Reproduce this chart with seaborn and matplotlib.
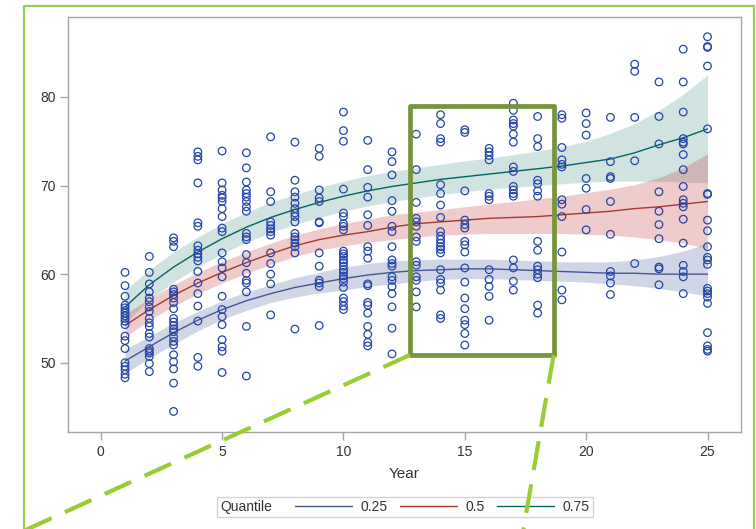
import numpy as np
import pandas as pd
import matplotlib
matplotlib.use("Agg")
import matplotlib.pyplot as plt
import seaborn as sns
from matplotlib.lines import Line2D
from matplotlib.patches import Rectangle
from matplotlib.offsetbox import HPacker


# DATA

years = list(range(1, 26))

pts_01 = [60.2, 58.7, 57.5, 56.5, 56.2, 55.9, 55.6, 55.3, 55.0, 54.7, 54.3, 53.0, 52.5, 51.6, 50.0, 49.6, 49.2, 48.7, 48.3]
pts_02 = [62.0, 60.2, 58.9, 58.0, 57.3, 56.9, 56.3, 55.8, 55.0, 54.5, 54.1, 53.3, 52.9, 51.6, 51.3, 51.1, 50.7, 49.9, 49.0]
pts_03 = [64.1, 63.7, 63.1, 58.3, 58.0, 57.7, 57.3, 56.8, 56.1, 55.0, 54.6, 54.2, 53.8, 53.5, 52.9, 52.4, 52.0, 50.9, 50.1, 49.3, 47.7, 44.5]
pts_04 = [73.8, 73.3, 72.9, 70.3, 65.8, 65.4, 63.2, 62.7, 62.3, 61.9, 61.5, 60.3, 59.0, 57.8, 56.4, 54.7, 50.6, 49.6]
pts_05 = [73.9, 70.3, 69.5, 68.9, 68.6, 68.2, 67.4, 66.5, 65.2, 64.8, 62.4, 61.4, 60.7, 59.7, 57.5, 56.0, 55.2, 54.3, 52.6, 51.8, 51.3, 48.9]
pts_06 = [73.7, 72.0, 70.4, 69.5, 69.1, 68.7, 68.2, 67.6, 67.1, 64.6, 64.2, 63.9, 62.2, 61.3, 60.1, 59.3, 59.0, 58.0, 54.1, 48.5]
pts_07 = [75.5, 69.3, 68.2, 65.9, 65.5, 65.1, 64.8, 64.4, 62.4, 61.2, 60.0, 58.9, 55.4]
pts_08 = [74.9, 70.6, 69.3, 68.7, 68.0, 67.4, 66.9, 66.5, 65.9, 64.6, 64.2, 63.9, 63.5, 63.1, 62.4, 53.8]
pts_09 = [74.2, 73.3, 69.5, 68.6, 68.2, 65.9, 65.8, 62.4, 60.9, 59.3, 59.0, 58.6, 54.2]
pts_10 = [78.3, 76.2, 75.0, 69.6, 66.9, 66.5, 65.7, 65.4, 65.0, 62.6, 62.3, 62.0, 61.6, 61.3, 60.9, 60.5, 60.2, 59.8, 59.5, 59.1, 58.5, 57.3, 56.9, 56.4, 56.0]
pts_11 = [75.1, 71.8, 69.8, 68.7, 66.7, 65.5, 63.1, 62.6, 61.8, 58.9, 58.7, 56.8, 56.5, 55.6, 54.1, 53.2, 52.3, 51.9]
pts_12 = [73.8, 72.7, 71.2, 68.3, 67.1, 65.4, 64.8, 63.1, 61.6, 61.2, 60.9, 59.7, 59.3, 58.6, 57.8, 56.3, 53.9, 51.0]
pts_13 = [75.8, 71.8, 68.1, 66.3, 65.9, 65.4, 64.2, 63.7, 61.4, 61.0, 59.7, 59.3, 58.0, 56.3]
pts_14 = [78.0, 77.0, 75.3, 74.9, 70.1, 69.1, 67.8, 66.4, 64.8, 64.3, 63.9, 63.5, 63.1, 62.8, 62.4, 60.5, 59.4, 59.0, 58.2, 55.4, 55.0]
pts_15 = [76.3, 76.0, 69.4, 66.1, 65.6, 65.2, 63.7, 63.3, 62.5, 60.7, 59.1, 57.3, 56.1, 54.8, 54.3, 53.3, 52.0]
pts_16 = [74.2, 73.8, 73.4, 72.9, 69.1, 68.8, 68.4, 60.5, 59.4, 58.6, 57.5, 54.8]
pts_17 = [79.3, 78.5, 77.4, 77.0, 76.7, 75.8, 74.9, 72.1, 71.6, 69.9, 69.5, 69.1, 68.8, 61.6, 60.7, 59.2, 58.2]
pts_18 = [77.8, 75.3, 74.4, 70.6, 70.2, 69.4, 68.8, 63.7, 62.7, 60.9, 60.5, 60.0, 59.6, 56.5, 55.6]
pts_19 = [78.0, 77.6, 74.3, 72.9, 72.4, 72.1, 68.4, 67.9, 66.5, 62.5, 58.2, 57.1]
pts_20 = [78.2, 77.0, 75.7, 70.8, 69.7, 67.3, 65.0]
pts_21 = [77.7, 72.7, 71.0, 70.8, 68.2, 64.5, 60.3, 59.8, 59.0, 57.7]
pts_22 = [83.7, 82.9, 77.7, 72.8, 61.2]
pts_23 = [81.7, 77.8, 74.7, 69.3, 67.1, 65.6, 64.0, 60.8, 60.6, 58.8]
pts_24 = [85.4, 81.7, 78.3, 75.3, 74.9, 74.7, 73.5, 71.8, 69.9, 68.4, 68.0, 67.6, 66.2, 63.5, 61.0, 60.3, 59.7, 57.8]
pts_25 = [86.8, 85.7, 85.6, 83.5, 76.4, 69.1, 69.0, 66.1, 64.9, 63.1, 61.9, 61.6, 61.1, 58.4, 58.1, 57.8, 57.4, 56.7, 53.4, 51.9, 51.5, 51.3]

points_by_year = [pts_01, pts_02, pts_03, pts_04, pts_05, pts_06, pts_07, pts_08, pts_09,
                  pts_10, pts_11, pts_12, pts_13, pts_14, pts_15, pts_16, pts_17, pts_18,
                  pts_19, pts_20, pts_21, pts_22, pts_23, pts_24, pts_25]

# fitted quantile curves and their confidence limits
q25_fit = [50.2, 51.8, 53.4, 54.8, 56.0, 57.0, 57.8, 58.5, 59.0, 59.5, 59.9, 60.2, 60.4,
           60.5, 60.6, 60.6, 60.5, 60.4, 60.3, 60.2, 60.1, 60.1, 60.0, 60.0, 60.0]
q25_lo = [48.8, 50.5, 52.1, 53.6, 54.9, 55.9, 56.8, 57.4, 57.9, 58.2, 58.6, 58.9, 59.2,
          59.4, 59.5, 59.5, 59.4, 59.3, 59.2, 59.1, 58.9, 58.7, 58.4, 58.0, 57.5]
q25_hi = [51.5, 53.0, 54.5, 55.8, 57.0, 58.0, 58.8, 59.6, 60.2, 60.8, 61.2, 61.5, 61.6,
          61.7, 61.7, 61.7, 61.6, 61.5, 61.4, 61.4, 61.4, 61.6, 62.0, 62.6, 63.5]

q50_fit = [54.2, 56.0, 57.6, 59.0, 60.2, 61.3, 62.3, 63.2, 63.9, 64.4, 64.8, 65.3, 65.7,
           65.9, 66.1, 66.3, 66.4, 66.5, 66.7, 66.9, 67.1, 67.4, 67.6, 67.9, 68.2]
q50_lo = [52.9, 54.8, 56.4, 57.8, 59.0, 60.1, 61.1, 62.0, 62.7, 63.2, 63.6, 63.9, 64.2,
          64.4, 64.5, 64.6, 64.6, 64.6, 64.6, 64.5, 64.4, 64.2, 63.9, 63.5, 62.9]
q50_hi = [55.5, 57.2, 58.8, 60.2, 61.4, 62.5, 63.5, 64.4, 65.1, 65.7, 66.2, 66.7, 67.0,
          67.3, 67.6, 67.9, 68.2, 68.5, 68.8, 69.2, 69.6, 70.1, 70.9, 72.0, 73.6]

q75_fit = [56.3, 58.8, 60.8, 62.5, 64.0, 65.3, 66.4, 67.3, 68.1, 68.8, 69.4, 69.9, 70.3,
           70.7, 71.0, 71.3, 71.6, 71.9, 72.2, 72.6, 73.0, 73.7, 74.6, 75.4, 76.4]
q75_lo = [54.5, 57.1, 59.1, 60.8, 62.3, 63.6, 64.7, 65.6, 66.4, 67.1, 67.7, 68.2, 68.6,
          69.0, 69.3, 69.6, 69.8, 70.0, 70.2, 70.4, 70.5, 70.5, 70.5, 70.4, 70.3]
q75_hi = [58.2, 60.5, 62.5, 64.2, 65.7, 67.0, 68.1, 69.0, 69.8, 70.5, 71.1, 71.6, 72.0,
          72.4, 72.8, 73.1, 73.5, 73.9, 74.4, 75.0, 75.9, 77.0, 78.5, 80.3, 82.5]

quantile_labels = ["0.25", "0.5", "0.75"]
x_ticks = [0, 5, 10, 15, 20, 25]
y_ticks = [50, 60, 70, 80]

# zoomed window (years / values) highlighted in the picture
zoom_x = [12.74, 18.66]
zoom_y = [50.88, 78.98]

# STYLE

LINE_COLORS = ["#445694", "#A23A2E", "#01665E"]
BAND_COLORS = ["#4B5FA3", "#C33333", "#4B938B"]
MARKER_COLOR = "#2446A8"
AXIS_GRAY = "#A6A6A6"
TEXT_COLOR = "#333333"

sns.set_theme(style="white")
plt.rcParams["font.family"] = ["Liberation Sans", "DejaVu Sans"]

fig = plt.figure(figsize=(7.56, 5.29), dpi=100)
ax = fig.add_axes([68 / 756, 1 - 432 / 529, (741 - 68) / 756, (432 - 17) / 529])

# confidence bands
bands = [(q25_lo, q25_hi), (q75_lo, q75_hi), (q50_lo, q50_hi)]
band_cols = [BAND_COLORS[0], BAND_COLORS[2], BAND_COLORS[1]]
for (lo, hi), col in zip(bands, band_cols):
    ax.fill_between(years, lo, hi, color=col, alpha=0.25, lw=0, zorder=1)

# quantile curves
curves = pd.DataFrame({
    "Year": years * 3,
    "Value": q25_fit + q50_fit + q75_fit,
    "Quantile": [q for q in quantile_labels for _ in years],
})
sns.lineplot(data=curves, x="Year", y="Value", hue="Quantile",
             palette=LINE_COLORS, linewidth=1.0, legend=False, ax=ax, zorder=2)

# observations
obs = pd.DataFrame({
    "Year": [yr for yr, vals in zip(years, points_by_year) for _ in vals],
    "Value": [v for vals in points_by_year for v in vals],
})
sns.scatterplot(data=obs, x="Year", y="Value", ax=ax, marker="o", s=30,
                facecolors="none", edgecolor=MARKER_COLOR, linewidth=0.9, zorder=3)

ax.set_xlim(-1.35, 26.38)
ax.set_ylim(42.18, 89.03)
ax.set_xticks(x_ticks)
ax.set_yticks(y_ticks)
ax.set_xlabel("Year", fontsize=11, color=TEXT_COLOR, labelpad=6)
ax.set_ylabel("")
for sp in ax.spines.values():
    sp.set_color(AXIS_GRAY)
    sp.set_linewidth(1.0)
ax.tick_params(axis="both", direction="out", length=6, width=1, color=AXIS_GRAY,
               labelsize=10, labelcolor=TEXT_COLOR, pad=3)
ax.tick_params(left=True, bottom=True)

# legend: "Quantile" title inline with the entries
handles = [Line2D([], [], color=c, lw=1.0) for c in LINE_COLORS]
leg = fig.legend(handles, quantile_labels, ncol=3, title="Quantile", loc="center",
                 bbox_to_anchor=(405 / 756, 1 - 507 / 529), fontsize=10,
                 title_fontsize=10, frameon=True, fancybox=False, borderpad=0.25,
                 borderaxespad=0, handlelength=4.1, handletextpad=0.6,
                 columnspacing=0.9, labelspacing=1.6)
leg._legend_box.__class__ = HPacker
leg.get_frame().set_edgecolor("#C8C8C8")
leg.get_frame().set_linewidth(1.0)
for t in leg.get_texts():
    t.set_color(TEXT_COLOR)
leg.get_title().set_color(TEXT_COLOR)

# highlighted window
ax.add_patch(Rectangle((zoom_x[0], zoom_y[0]), zoom_x[1] - zoom_x[0], zoom_y[1] - zoom_y[0],
                       fill=False, ec="#77933C", lw=3.4, joinstyle="round",
                       clip_on=False, zorder=6))

# dashed leader lines from the window corners to below the figure
to_fig = fig.transFigure.inverted()
c_left = to_fig.transform(ax.transData.transform((zoom_x[0], zoom_y[0])))
c_right = to_fig.transform(ax.transData.transform((zoom_x[1], zoom_y[0])))
for start, end in [(c_left, (22 / 756, -0.005)), (c_right, (523 / 756, -0.005))]:
    fig.add_artist(Line2D([start[0], end[0]], [start[1], end[1]], transform=fig.transFigure,
                          color="#9ACD32", lw=3.0, dashes=(7, 3.5), zorder=10,
                          solid_capstyle="butt", dash_capstyle="butt"))

# outer light-green frame (open at the bottom)
fig.add_artist(Rectangle((24 / 756, -0.05), (754 - 24) / 756, 1 - 6 / 529 + 0.05,
                         transform=fig.transFigure, fill=False, ec="#92D050", lw=1.6,
                         zorder=0))

fig.savefig("out.png", dpi=100)
